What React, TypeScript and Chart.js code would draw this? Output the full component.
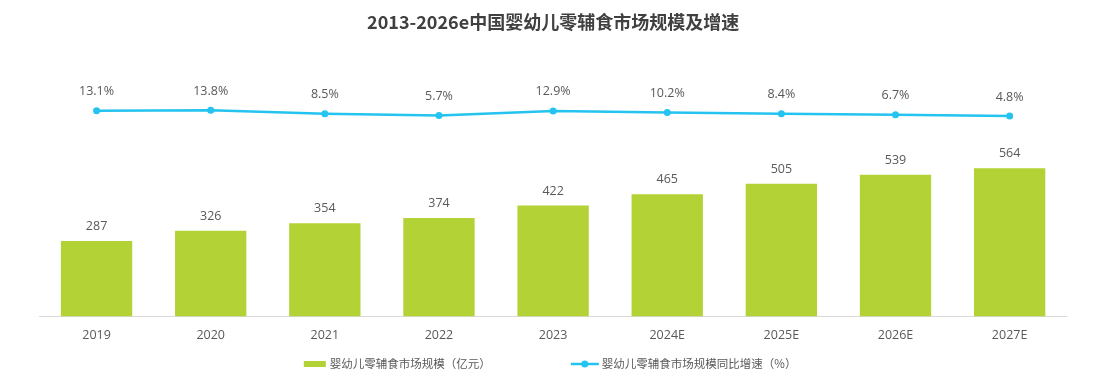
import React, { useEffect, useRef } from "react";
import { Chart, registerables } from "chart.js";

Chart.register(...registerables);

const titleText = "2013-2026e中国婴幼儿零辅食市场规模及增速";
const categories = ["2019", "2020", "2021", "2022", "2023", "2024E", "2025E", "2026E", "2027E"];
const marketSize = [287, 326, 354, 374, 422, 465, 505, 539, 564];
const growthRate = [13.1, 13.8, 8.5, 5.7, 12.9, 10.2, 8.4, 6.7, 4.8];
const barLabel = "婴幼儿零辅食市场规模（亿元）";
const lineLabel = "婴幼儿零辅食市场规模同比增速（%）";

const BAR_COLOR = "#b3d235";
const LINE_COLOR = "#25c3ef";
const TEXT_COLOR = "#595959";
const FONT = '"Open Sans", "Noto Sans CJK SC", sans-serif';
const CJK_FONT = '"Noto Sans CJK SC", "Open Sans", sans-serif';

const valueLabels = {
  id: "valueLabels",
  afterDatasetsDraw(chart: any) {
    const ctx = chart.ctx;
    ctx.save();
    ctx.fillStyle = TEXT_COLOR;
    ctx.textAlign = "center";
    ctx.textBaseline = "middle";
    ctx.font = `12.5px ${FONT}`;
    chart.data.datasets.forEach((ds: any, i: number) => {
      const meta = chart.getDatasetMeta(i);
      meta.data.forEach((el: any, j: number) => {
        const v = ds.data[j];
        if (ds.type === "bar") {
          ctx.fillText(String(v), el.x, el.y - 14.5);
        } else {
          ctx.fillText(v.toFixed(1) + "%", el.x, el.y - 19);
        }
      });
    });
    ctx.restore();
  },
};

const customLegend = {
  id: "customLegend",
  afterDraw(chart: any) {
    const ctx = chart.ctx;
    const area = chart.chartArea;
    ctx.save();
    ctx.font = `11.5px ${CJK_FONT}`;
    ctx.textBaseline = "middle";
    ctx.textAlign = "left";
    const y = 364;
    const w1 = ctx.measureText(barLabel).width;
    const w2 = ctx.measureText(lineLabel).width;
    const boxW = 22;
    const lineW = 28;
    const total = boxW + 4 + w1 + 80 + lineW + 3 + w2;
    let x = (area.left + area.right) / 2 - 3 - total / 2;
    ctx.fillStyle = BAR_COLOR;
    ctx.fillRect(x, y - 3, boxW, 6);
    x += boxW + 4;
    ctx.fillStyle = TEXT_COLOR;
    ctx.fillText(barLabel, x, y);
    x += w1 + 80;
    ctx.strokeStyle = LINE_COLOR;
    ctx.lineWidth = 2.5;
    ctx.beginPath();
    ctx.moveTo(x, y);
    ctx.lineTo(x + lineW, y);
    ctx.stroke();
    ctx.fillStyle = LINE_COLOR;
    ctx.beginPath();
    ctx.arc(x + lineW / 2, y, 3.5, 0, Math.PI * 2);
    ctx.fill();
    x += lineW + 3;
    ctx.fillStyle = TEXT_COLOR;
    ctx.fillText(lineLabel, x, y);
    ctx.restore();
  },
};

export default function App() {
  const canvasRef = useRef<HTMLCanvasElement | null>(null);

  useEffect(() => {
    document.body.style.margin = "0";
    const canvas = canvasRef.current;
    if (!canvas) return;
    const chart = new Chart(canvas, {
      type: "bar",
      data: {
        labels: categories,
        datasets: [
          {
            type: "line",
            label: lineLabel,
            data: growthRate,
            yAxisID: "y1",
            borderColor: LINE_COLOR,
            backgroundColor: LINE_COLOR,
            borderWidth: 2.5,
            pointRadius: 3.5,
            pointBackgroundColor: LINE_COLOR,
            pointBorderWidth: 0,
            tension: 0,
            order: 0,
          } as any,
          {
            type: "bar",
            label: barLabel,
            data: marketSize,
            yAxisID: "y",
            backgroundColor: BAR_COLOR,
            categoryPercentage: 1,
            barPercentage: 0.625,
            order: 1,
          } as any,
        ],
      },
      options: {
        responsive: false,
        animation: false,
        layout: { padding: { left: 39.5, right: 39.3, top: 0, bottom: 25.6 } },
        plugins: {
          legend: { display: false },
          tooltip: { enabled: false },
          title: {
            display: true,
            text: titleText,
            color: "#404040",
            font: { family: CJK_FONT, size: 18, weight: "bold" },
            padding: { top: 11, bottom: 21 },
          },
        },
        scales: {
          x: {
            grid: { display: false, drawTicks: false },
            border: { display: true, color: "#d9d9d9", width: 1 },
            ticks: { color: TEXT_COLOR, font: { family: FONT, size: 12.5 }, padding: 12 },
          },
          y: { display: false, min: 0, max: 1000 },
          y1: { display: false, min: -314.2, max: 104.1, position: "right" },
        },
      },
      plugins: [valueLabels, customLegend],
    });
    return () => chart.destroy();
  }, []);

  return (
    <div style={{ width: 1106, height: 381 }}>
      <canvas ref={canvasRef} width={1106} height={381} style={{ display: "block" }} />
    </div>
  );
}
